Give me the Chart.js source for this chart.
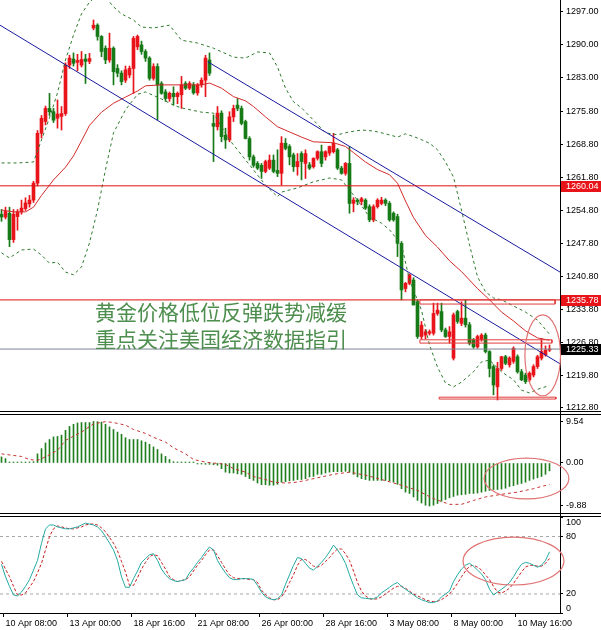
<!DOCTYPE html>
<html>
<head>
<meta charset="utf-8">
<title>XAUUSD H4</title>
<script src="https://cdn.jsdelivr.net/npm/chart.js@4.4.1/dist/chart.umd.min.js"></script>
<style>
  html, body { margin: 0; padding: 0; background: #fff; }
  #wrap { position: relative; width: 601px; height: 630px; overflow: hidden; background: #fff; }
  #wrap canvas { position: absolute; left: 0; }
  #main { top: 0; }
  #macd { top: 412px; }
  #stoch { top: 508px; }
  .note { position: absolute; left: 95px; top: 298px; z-index: 2; font: 21px/27px "Noto Sans CJK SC", sans-serif; color: #4e8e4e; white-space: nowrap; }
</style>
</head>
<body>
<div id="wrap">
  <canvas id="main" width="601" height="416"></canvas>
  <canvas id="macd" width="601" height="104"></canvas>
  <canvas id="stoch" width="601" height="122"></canvas>
  <div class="note">黄金价格低位反弹跌势减缓<br>重点关注美国经济数据指引</div>
</div>
<script>
// K线 (H4), bar index 0..137
const opens = [
  1254.0,1253.4,1254.2,1248.6,1253.5,1254.5,1255.2,1256.2,1257.0,1260.6,
  1271.2,1273.7,1276.5,1275.8,1274.4,1274.8,1275.4,1285.7,1287.0,1286.3,
  1285.7,1287.0,1286.5,1293.6,1294.2,1291.8,1289.3,1286.8,1289.3,1285.0,
  1284.0,1282.5,1283.6,1285.0,1289.6,1290.0,1288.6,1287.2,1282.9,1285.4,
  1281.8,1280.0,1278.6,1279.7,1279.0,1279.4,1281.8,1280.8,1281.5,1279.8,
  1281.5,1282.5,1286.8,1273.3,1272.6,1275.5,1270.8,1269.8,1274.7,1277.2,
  1276.5,1273.7,1270.1,1266.2,1264.8,1264.4,1263.1,1263.8,1265.5,1263.3,
  1262.7,1269.1,1268.4,1266.6,1264.1,1266.9,1264.8,1264.5,1264.1,1265.9,
  1267.3,1266.2,1267.0,1267.3,1267.7,1263.8,1262.7,1264.8,1256.3,1257.0,
  1256.7,1257.0,1255.6,1252.8,1255.6,1256.3,1257.0,1256.3,1254.2,1253.5,
  1247.8,1238.2,1239.3,1240.0,1235.4,1228.0,1228.3,1228.7,1228.7,1232.9,
  1233.3,1229.4,1228.0,1223.4,1233.3,1230.8,1231.9,1230.5,1227.3,1225.8,
  1227.3,1228.3,1224.8,1221.6,1217.3,1221.2,1223.7,1222.0,1222.7,1223.7,
  1220.5,1219.8,1218.8,1219.8,1221.6,1223.4,1224.1,1225.1
];
const highs = [
  1255.0,1255.5,1255.5,1255.0,1255.0,1257.0,1257.5,1258.0,1261.0,1271.8,
  1275.0,1277.0,1279.7,1276.5,1278.3,1276.9,1286.2,1287.8,1288.3,1288.0,
  1288.6,1288.0,1288.2,1295.3,1294.5,1292.0,1289.8,1292.5,1289.6,1285.8,
  1284.5,1285.5,1285.5,1291.8,1292.1,1290.8,1289.0,1287.5,1286.0,1286.0,
  1282.2,1280.5,1280.0,1281.1,1280.0,1283.3,1282.2,1282.2,1282.0,1281.8,
  1283.0,1287.8,1288.3,1275.1,1276.9,1276.0,1272.3,1275.8,1277.2,1278.6,
  1277.0,1274.0,1270.5,1266.6,1265.2,1264.8,1265.5,1266.6,1266.6,1267.7,
  1270.5,1270.1,1268.8,1267.0,1266.9,1267.3,1267.7,1265.0,1266.0,1267.5,
  1268.7,1267.5,1268.5,1271.2,1268.0,1264.2,1265.0,1268.4,1257.5,1257.3,
  1257.6,1257.3,1256.0,1256.0,1257.3,1257.6,1257.3,1256.7,1254.5,1254.0,
  1248.2,1239.5,1241.3,1240.5,1235.8,1231.2,1229.5,1229.4,1235.1,1235.1,
  1235.1,1229.8,1230.1,1233.0,1233.6,1235.4,1235.8,1231.0,1227.6,1228.3,
  1228.6,1228.7,1225.0,1222.0,1222.5,1223.8,1224.0,1223.7,1225.8,1224.1,
  1221.0,1220.2,1220.5,1222.0,1224.0,1227.6,1226.0,1226.2
];
const lows = [
  1252.5,1253.0,1247.1,1248.0,1250.6,1254.0,1254.8,1255.5,1256.5,1260.0,
  1270.2,1273.0,1275.0,1273.5,1272.3,1271.9,1275.0,1285.0,1285.5,1284.5,
  1285.3,1281.8,1286.0,1293.2,1291.0,1287.5,1286.0,1286.3,1281.5,1283.2,
  1281.5,1282.0,1283.0,1279.7,1289.0,1288.0,1286.5,1282.5,1282.5,1274.1,
  1279.5,1278.0,1278.0,1277.2,1277.5,1276.5,1280.5,1280.5,1279.5,1279.3,
  1281.0,1279.0,1283.5,1265.2,1271.9,1269.4,1268.0,1269.4,1273.7,1276.0,
  1273.0,1270.0,1265.5,1264.0,1263.5,1261.6,1262.8,1263.5,1262.8,1262.0,
  1260.2,1267.7,1264.5,1263.1,1262.3,1261.3,1261.6,1263.5,1263.8,1265.5,
  1264.1,1265.5,1266.5,1267.0,1263.5,1262.5,1262.3,1254.2,1254.5,1256.0,
  1256.0,1255.0,1252.4,1252.4,1255.3,1256.0,1255.8,1252.5,1252.5,1245.0,
  1235.8,1237.5,1239.0,1234.7,1227.6,1227.5,1227.5,1228.3,1228.3,1232.5,
  1229.0,1227.8,1226.6,1223.0,1230.8,1230.3,1230.0,1226.2,1225.5,1225.5,
  1227.0,1224.5,1219.4,1215.6,1214.5,1220.8,1222.0,1221.5,1222.3,1220.2,
  1218.6,1218.0,1218.4,1219.4,1221.2,1223.0,1223.8,1224.8
];
const closes = [
  1253.4,1254.6,1248.6,1254.0,1254.5,1255.3,1256.4,1257.0,1260.6,1271.2,
  1274.4,1276.5,1275.8,1274.0,1275.3,1275.4,1285.7,1287.2,1286.1,1286.7,
  1286.9,1286.5,1287.1,1294.2,1291.8,1288.6,1286.8,1289.3,1284.3,1284.0,
  1282.2,1284.7,1285.0,1291.4,1291.8,1288.6,1287.2,1282.9,1285.4,1281.5,
  1279.7,1278.6,1279.7,1279.0,1279.7,1281.5,1280.8,1281.8,1279.8,1281.5,
  1282.5,1287.2,1284.0,1272.7,1275.5,1270.5,1269.8,1274.7,1276.5,1276.5,
  1273.3,1270.1,1266.2,1264.4,1263.8,1263.1,1265.2,1265.5,1263.1,1262.7,
  1269.1,1268.0,1266.2,1264.1,1265.2,1265.2,1266.9,1263.8,1265.9,1267.3,
  1264.8,1267.3,1268.4,1269.1,1263.8,1262.7,1264.8,1256.3,1257.0,1256.7,
  1257.3,1255.3,1252.8,1255.6,1257.0,1257.0,1256.3,1252.8,1252.8,1247.8,
  1237.9,1239.3,1241.1,1234.7,1228.0,1230.4,1229.0,1229.0,1232.9,1233.6,
  1229.4,1228.0,1229.0,1232.6,1231.2,1231.9,1230.5,1226.6,1225.8,1228.0,
  1228.3,1224.8,1221.2,1217.7,1221.2,1223.7,1222.3,1223.4,1225.5,1220.5,
  1218.8,1218.4,1220.2,1221.6,1223.7,1224.8,1225.1,1225.33
];

// 布林带 as [bar, price]
const bbUpper = [[0,1264.9],[4,1264.9],[8,1265.1],[10,1269.8],[12,1274.5],[14,1279.8],[16,1286.8],[18,1292.1],[20,1296.6],[22,1299.1],[24,1300.6],[26,1300.2],[28,1298.1],[30,1296.6],[33,1295.3],[35,1293.8],[38,1293.6],[42,1294.2],[45,1291.0],[49,1290.4],[53,1289.3],[58,1287.4],[61,1287.2],[64,1288.5],[67,1288.3],[69,1285.3],[71,1280.8],[73,1277.9],[75,1276.6],[78,1274.0],[81,1271.3],[84,1270.9],[87,1271.5],[90,1271.9],[93,1271.7],[96,1271.1],[99,1270.4],[101,1271.1],[104,1270.2],[107,1269.1],[109,1267.7],[111,1265.1],[113,1261.9],[115,1254.9],[117,1247.5],[119,1240.7],[121,1237.5],[123,1236.2],[125,1235.8],[128,1234.5],[131,1233.2],[134,1231.5],[137,1228.5]];
const bbMiddle = [[0,1254.9],[3,1254.5],[6,1254.5],[8,1255.5],[10,1258.0],[13,1261.3],[16,1264.0],[18,1266.4],[20,1269.6],[22,1272.9],[25,1275.7],[28,1277.6],[31,1278.9],[34,1280.2],[36,1281.3],[40,1281.5],[45,1281.5],[50,1281.5],[52,1281.9],[55,1280.8],[58,1279.0],[61,1278.1],[63,1276.9],[66,1274.7],[69,1272.6],[72,1271.5],[75,1270.4],[78,1269.4],[83,1269.2],[86,1268.4],[88,1267.1],[91,1265.1],[94,1263.5],[97,1262.4],[99,1260.6],[101,1256.8],[103,1253.3],[106,1249.5],[109,1247.0],[112,1244.1],[115,1241.8],[119,1238.2],[122,1235.8],[125,1233.2],[128,1231.3],[131,1229.2],[134,1227.7],[137,1227.2]];
const bbLower = [[0,1245.8],[2,1244.7],[5,1246.4],[8,1246.6],[10,1245.3],[12,1243.6],[14,1243.8],[16,1241.7],[18,1241.1],[20,1242.8],[22,1247.9],[24,1254.9],[26,1263.5],[28,1271.3],[31,1276.2],[34,1279.5],[36,1280.0],[40,1278.5],[43,1277.2],[45,1276.6],[50,1275.7],[53,1275.5],[57,1269.8],[62,1264.5],[66,1260.2],[69,1257.7],[70,1258.7],[74,1259.6],[78,1260.9],[82,1261.7],[85,1261.3],[89,1257.0],[92,1253.4],[95,1252.1],[97,1250.7],[100,1247.5],[102,1240.0],[105,1233.6],[107,1226.2],[109,1221.5],[111,1218.1],[113,1217.3],[115,1218.3],[118,1220.5],[120,1222.6],[122,1223.0],[125,1220.5],[128,1218.8],[130,1216.6],[132,1216.0],[135,1217.1],[137,1217.5]];

// MACD
const macdHist = [
  1.4,1.0,0.15,0.15,0.15,0.15,0.15,0.15,0.3,2.1,
  3.3,4.6,5.4,6.0,6.1,6.4,7.5,8.4,8.9,9.2,
  9.3,9.3,9.3,9.54,9.5,9.4,8.9,8.3,7.7,7.1,
  6.6,5.8,5.4,5.4,5.4,5.1,4.8,4.3,3.7,3.1,
  2.1,1.5,0.8,0.3,0.15,0.15,0.1,0.05,0.05,-0.1,
  -0.15,-0.3,-0.3,-0.4,-0.5,-1.3,-2.1,-2.3,-2.3,-2.5,
  -2.6,-3.1,-3.6,-4.0,-4.6,-5.0,-5.0,-5.1,-5.1,-4.9,
  -4.4,-4.3,-4.1,-4.0,-3.8,-3.8,-3.6,-3.2,-3.1,-2.6,
  -2.6,-2.3,-2.1,-2.0,-2.0,-2.0,-1.9,-2.1,-2.6,-3.2,
  -3.6,-3.8,-4.0,-4.0,-4.0,-4.0,-4.0,-4.1,-4.4,-4.9,
  -5.9,-6.7,-7.0,-7.8,-8.6,-9.2,-9.7,-9.88,-9.7,-9.3,
  -8.8,-8.4,-8.0,-7.7,-7.4,-7.3,-7.2,-7.0,-7.0,-6.9,
  -6.7,-6.5,-6.3,-6.1,-6.1,-6.0,-5.8,-5.4,-5.2,-4.9,
  -4.7,-4.4,-4.0,-3.7,-3.4,-3.1,-2.6,-1.8
];
const macdSignal = [[0,2.1],[5,1.5],[7,0.8],[9,0.6],[11,1.4],[14,2.9],[16,5.2],[20,7.1],[23,9.0],[26,9.5],[28,9.3],[31,8.7],[33,7.7],[36,6.8],[38,5.9],[41,4.8],[43,3.5],[46,2.1],[48,0.8],[51,0.2],[53,0],[56,-0.3],[58,-1.3],[61,-2.1],[63,-3.1],[66,-3.8],[68,-4.4],[71,-4.6],[73,-4.5],[75,-4.2],[79,-3.4],[83,-2.6],[87,-2.1],[91,-2.8],[95,-3.8],[100,-5.1],[104,-6.3],[108,-8.2],[112,-9.5],[115,-9.5],[118,-8.6],[121,-7.8],[125,-7.2],[129,-6.7],[133,-5.9],[137,-4.9]];

// Stochastic
const stochK = [
  51,38,28,19,18,22,28,35,45,55, 73,88,92,92,90,89,88,88,89,90,
  92,94,93,92,90,86,80,73,66,55, 38,27,27,36,44,53,57,61,62,55,
  46,40,36,34,33,34,35,42,47,53, 58,64,69,66,55,48,42,37,35,35,
  36,36,36,35,29,22,17,15,14,15, 19,30,40,50,58,57,52,47,45,49,
  53,58,64,71,66,60,52,40,29,19, 16,15.5,15,15,17,21,24,27,30,32,
  28,25,22,19,16,14,12.5,11,11,12.5, 17,20,23,33,40,46,50,52,49,45,
  41,35,25,19,22,25,28,32,38,45, 51,53,52,50,48,50,55,64
];
const stochD = [
  54,46,38,28,19,19,21,27,33,42, 52,66,80,88,91,90,89,88,88,89,
  90,92,93,93,92,89,85,79,73,65, 54,43,29,29,37,46,53,59,61,60,
  53,46,38,35,33,34,35,38,44,50, 55,61,66,66,60,53,46,40,37,36,
  36,36,35,35,32,24,19,16,14,14, 17,23,32,40,50,56,56,53,49,48,
  50,54,58,63,67,67,62,55,44,32, 23,18,15,14.5,15,17,20,23,26,28,
  28,26,23,20,18,16,14,12.5,12,12.5, 14,17,20,25,31,38,44,49,50,48,
  45,40,35,28,22,21,23,26,31,37, 43,48,50,50,49,49,52,57
];
const stochLevels = [20, 80];

// axis ticks
const priceTicks = [1297.0, 1290.0, 1283.0, 1275.8, 1268.8, 1261.8, 1254.8, 1247.8, 1240.8, 1233.8, 1226.8, 1219.8, 1212.8];
const macdTicks = [9.54, 0, -9.88];
const stochTicks = [0, 20, 80, 100];
const timeLabels = ['10 Apr 08:00', '13 Apr 00:00', '18 Apr 16:00', '21 Apr 08:00', '26 Apr 00:00', '28 Apr 16:00', '3 May 08:00', '8 May 00:00', '10 May 16:00'];
const timeTickBars = [1, 17, 33, 49, 65, 81, 97, 113, 129];

// drawn objects
const levelPrices = [1260.04, 1235.78];
const lastPrice = 1225.33;
const channelLow = [[-0.375, 1294.2], [139.625, 1222.2]];
const channelHigh = [[51.6, 1286.4], [139.625, 1241.7]];
const boxes = [[104.6, 138.4, 1235.8, 1234.9], [104.6, 137.6, 1227.3, 1226.6], [109.4, 138.6, 1215.1, 1214.7]];
const mainEllipse = { bar: 135.3, value: 1224.0, bars: 4.45, span: 8.6 };
const macdEllipse = { bar: 131.25, value: -3.56, bars: 10.6, span: 4.7 };
const stochEllipse = { bar: 128, value: 54.4, bars: 12.6, span: 25 };

const X_MIN = -0.375, X_MAX = 139.625;
const UP = '#e8141a', DOWN = '#167a16';
const AXIS_FONT = { family: 'Liberation Sans', size: 9 };

const pts = arr => arr.map(([x, y]) => ({ x, y }));
const flat = (v) => [{ x: X_MIN, y: v }, { x: X_MAX, y: v }];
const lineDs = (data, color, extra) => Object.assign({
  type: 'line', data, borderColor: color, borderWidth: 1, pointRadius: 0,
  tension: 0, fill: false
}, extra || {});

function framePlugin(rows, full) {
  return {
    id: 'frame',
    afterDraw(chart) {
      const { ctx, chartArea: a } = chart;
      ctx.save();
      ctx.fillStyle = '#000';
      rows.forEach(edge => ctx.fillRect(0, Math.round(a[edge]), chart.width, 1));
      ctx.fillRect(Math.round(a.right), 0, 1, full ? chart.height : a.bottom);
      ctx.restore();
    }
  };
}

function ellipsePlugin(items) {
  return {
    id: 'ellipses',
    afterDraw(chart) {
      const { ctx, scales: { x, y } } = chart;
      ctx.save();
      ctx.strokeStyle = '#e07474';
      ctx.lineWidth = 1.2;
      items.forEach(e => {
        const cx = x.getPixelForValue(e.bar), cy = y.getPixelForValue(e.value);
        const rx = Math.abs(x.getPixelForValue(e.bar + e.bars) - cx);
        const ry = Math.abs(y.getPixelForValue(e.value + e.span) - cy);
        ctx.beginPath();
        ctx.ellipse(cx, cy, rx, ry, 0, 0, Math.PI * 2);
        ctx.stroke();
      });
      ctx.restore();
    }
  };
}

function tagPlugin(items) {
  return {
    id: 'tags',
    afterDraw(chart) {
      const { ctx, chartArea: a } = chart;
      const y = chart.scales.y;
      ctx.save();
      ctx.font = '9px "Liberation Sans"';
      ctx.textBaseline = 'middle';
      items.forEach(t => {
        const py = Math.round(y.getPixelForValue(t.value));
        ctx.fillStyle = t.bg;
        ctx.fillRect(a.right + 1, py - 5, chart.width - a.right - 1, 11);
        ctx.fillStyle = '#fff';
        ctx.fillText(t.value.toFixed(2), a.right + 6, py + 0.5);
      });
      ctx.restore();
    }
  };
}

// labels MT4 pulls inside the window (stochastic 100 / 0)
function edgeLabelPlugin(items) {
  return {
    id: 'edgeLabels',
    afterDraw(chart) {
      const { ctx, chartArea: a } = chart;
      const y = chart.scales.y;
      ctx.save();
      ctx.font = '9px "Liberation Sans"';
      ctx.fillStyle = '#000';
      ctx.textBaseline = 'middle';
      items.forEach(t => ctx.fillText(t.text, a.right + 6, y.getPixelForValue(t.value) + t.shift));
      ctx.restore();
    }
  };
}

function xHidden() {
  return { type: 'linear', min: X_MIN, max: X_MAX, bounds: 'data', offset: false, display: false, grid: { offset: false } };
}

function yAxis(min, max, ticks, fmt) {
  return {
    type: 'linear', position: 'right', min, max, bounds: 'data',
    afterFit(s) { s.width = 41; s.paddingTop = 0; s.paddingBottom = 0; },
    afterBuildTicks(s) { s.ticks = ticks.map(v => ({ value: v })); },
    ticks: { callback: fmt, color: '#000', font: AXIS_FONT, padding: 3, autoSkip: false },
    grid: { drawOnChartArea: false, tickLength: 3, color: '#000' },
    border: { color: '#000' }
  };
}

const baseOptions = {
  responsive: false,
  animation: false,
  devicePixelRatio: 1,
  events: [],
  plugins: { legend: { display: false }, tooltip: { enabled: false } }
};

// ---- main price window
const candleColors = closes.map((c, i) => c > opens[i] ? UP : DOWN);
const mainDatasets = [
  ...boxes.map(([x0, x1, y0, y1]) => lineDs(pts([[x0, y0], [x1, y0], [x1, y1], [x0, y1], [x0, y0]]), '#e23c3c', { order: 1 })),
  ...levelPrices.map(p => lineDs(flat(p), '#e01010', { order: 2 })),
  lineDs(flat(lastPrice), '#7c8494', { order: 2 }),
  lineDs(pts(channelLow), '#1a1aa0', { order: 3 }),
  lineDs(pts(channelHigh), '#1a1aa0', { order: 3 }),
  lineDs(pts(bbMiddle), '#d42a2a', { order: 4 }),
  lineDs(pts(bbUpper), '#2f7a2f', { order: 5, borderDash: [3, 3] }),
  lineDs(pts(bbLower), '#2f7a2f', { order: 5, borderDash: [3, 3] }),
  {
    type: 'bar', order: 10, grouped: false, barThickness: 3, minBarLength: 1,
    data: opens.map((o, i) => ({ x: i, y: [o, closes[i]] })),
    backgroundColor: candleColors
  },
  {
    type: 'bar', order: 11, grouped: false, barThickness: 1, minBarLength: 1,
    data: lows.map((l, i) => ({ x: i, y: [l, highs[i]] })),
    backgroundColor: candleColors
  }
];

new Chart(document.getElementById('main'), {
  type: 'bar',
  data: { datasets: mainDatasets },
  options: Object.assign({}, baseOptions, {
    layout: { padding: { top: 0, bottom: 5, left: 0, right: 0 } },
    scales: {
      x: xHidden(),
      y: yAxis(1212.16, 1299.55, priceTicks, v => v.toFixed(2))
    }
  }),
  plugins: [
    framePlugin(['bottom'], true),
    ellipsePlugin([mainEllipse]),
    tagPlugin([
      { value: levelPrices[0], bg: '#e8141a' },
      { value: levelPrices[1], bg: '#e8141a' },
      { value: lastPrice, bg: '#000' }
    ])
  ]
});

// ---- MACD window
new Chart(document.getElementById('macd'), {
  type: 'bar',
  data: {
    datasets: [
      lineDs(pts(macdSignal), '#c83232', { order: 0, borderDash: [3, 3] }),
      {
        type: 'bar', order: 1, grouped: false, barThickness: 1, minBarLength: 1,
        data: macdHist.map((v, i) => ({ x: i, y: v })),
        backgroundColor: '#1f7f1f'
      }
    ]
  },
  options: Object.assign({}, baseOptions, {
    layout: { padding: { top: 2, bottom: 3, left: 0, right: 0 } },
    scales: {
      x: xHidden(),
      y: yAxis(-11.49, 11.26, macdTicks, v => v.toFixed(2))
    }
  }),
  plugins: [framePlugin(['top', 'bottom'], true), ellipsePlugin([macdEllipse])]
});

// ---- Stochastic window
new Chart(document.getElementById('stoch'), {
  type: 'line',
  data: {
    datasets: [
      lineDs(stochK.map((v, i) => ({ x: i, y: v })), '#22aaa2', { order: 0 }),
      lineDs(stochD.map((v, i) => ({ x: i, y: v })), '#c81e1e', { order: 1, borderDash: [3, 2] }),
      ...stochLevels.map(v => lineDs(flat(v), '#a8a8a8', { order: 2, borderDash: [3, 3] }))
    ]
  },
  options: Object.assign({}, baseOptions, {
    layout: { padding: { top: 8, bottom: 0, left: 0, right: 0 } },
    scales: {
      x: {
        type: 'linear', min: X_MIN, max: X_MAX, bounds: 'data', offset: false, position: 'bottom',
        afterFit(s) { s.height = 17; s.paddingLeft = 0; s.paddingRight = 0; },
        afterBuildTicks(s) { s.ticks = timeTickBars.map(b => ({ value: b - 0.5 })); },
        ticks: {
          autoSkip: false, maxRotation: 0, minRotation: 0, align: 'start', labelOffset: 2, padding: 1,
          color: '#000', font: AXIS_FONT, callback: (v, i) => timeLabels[i]
        },
        grid: { drawOnChartArea: false, tickLength: 4, color: '#000', offset: false },
        border: { color: '#000' }
      },
      y: yAxis(0.15, 101.4, stochTicks, v => (v === 0 || v === 100) ? '' : String(v))
    }
  }),
  plugins: [
    framePlugin(['top'], false),
    ellipsePlugin([stochEllipse]),
    edgeLabelPlugin([{ value: 100, text: '100', shift: 5 }, { value: 0, text: '0', shift: -5 }])
  ]
});
</script>
</body>
</html>
